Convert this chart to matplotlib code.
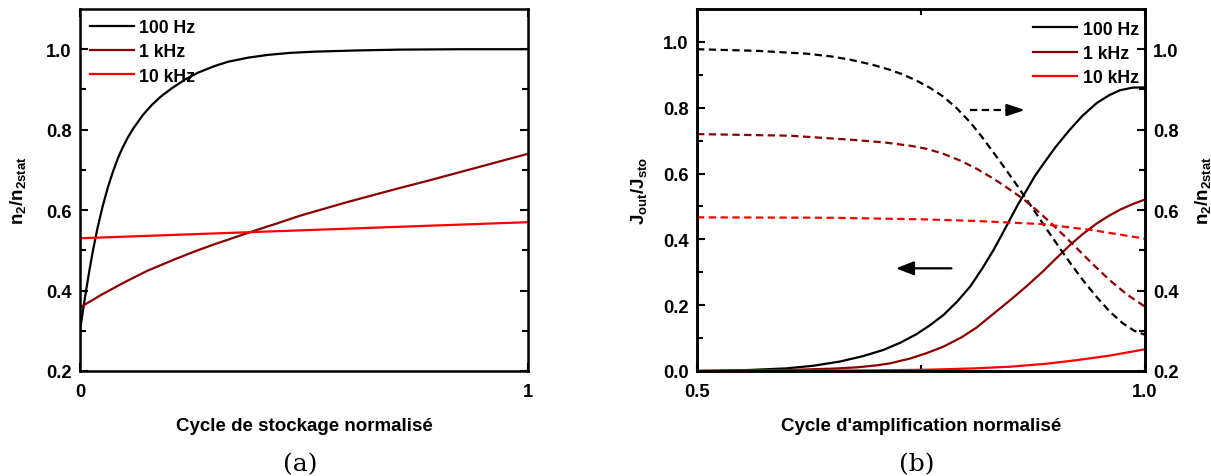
import numpy as np
import matplotlib
matplotlib.use("Agg")
import matplotlib.pyplot as plt
from matplotlib.ticker import FixedLocator

# fonts: bold Arial-like everywhere, subscripts bold too
plt.rcParams['font.family'] = ['Liberation Sans', 'DejaVu Sans']
plt.rcParams['font.weight'] = 'bold'
plt.rcParams['axes.labelweight'] = 'bold'
plt.rcParams['font.size'] = 12
plt.rcParams['mathtext.fontset'] = 'custom'
plt.rcParams['mathtext.rm'] = 'Liberation Sans:bold'
plt.rcParams['mathtext.bf'] = 'Liberation Sans:bold'
plt.rcParams['mathtext.it'] = 'Liberation Sans:bold'

labels = ['100 Hz', '1 kHz', '10 kHz']
colors = ['black', '#8B0000', '#FF0000']

# (a) storage cycle, n2/n2stat
x_sto_100 = [0, 0.007, 0.014, 0.021, 0.029, 0.039, 0.05, 0.062, 0.074, 0.085, 0.095, 0.107, 0.119,
             0.14, 0.16, 0.18, 0.205, 0.235, 0.264, 0.3, 0.331, 0.375, 0.42, 0.47, 0.525, 0.62,
             0.714, 0.85, 1.0]
n2_sto_100 = [0.30, 0.353, 0.403, 0.450, 0.500, 0.555, 0.607, 0.656, 0.697, 0.730, 0.755, 0.781, 0.803,
              0.836, 0.861, 0.882, 0.903, 0.925, 0.942, 0.958, 0.969, 0.979, 0.986, 0.991, 0.994, 0.997,
              0.999, 1.0, 1.0]
x_sto_1k = [0, 0.05, 0.1, 0.15, 0.212, 0.26, 0.3, 0.35, 0.39, 0.44, 0.491, 0.55, 0.6, 0.66, 0.714,
            0.78, 0.85, 0.92, 1.0]
n2_sto_1k = [0.358, 0.391, 0.421, 0.449, 0.478, 0.499, 0.515, 0.534, 0.549, 0.567, 0.586, 0.605, 0.621,
             0.639, 0.655, 0.674, 0.695, 0.716, 0.74]
x_sto_10k = [0, 0.5, 1.0]
n2_sto_10k = [0.53, 0.55, 0.57]

# (b) amplification cycle, J_out/J_sto (solid, left axis)
x_j_100 = [0.5, 0.55, 0.6, 0.63, 0.66, 0.685, 0.708, 0.727, 0.745, 0.76, 0.775, 0.79, 0.805, 0.818,
           0.831, 0.84, 0.849, 0.858, 0.868, 0.877, 0.887, 0.9, 0.916, 0.93, 0.946, 0.96, 0.972, 0.986, 1.0]
j_100 = [0.0, 0.002, 0.008, 0.016, 0.029, 0.045, 0.064, 0.086, 0.112, 0.139, 0.170, 0.210, 0.257, 0.31,
         0.368, 0.413, 0.459, 0.505, 0.550, 0.592, 0.631, 0.68, 0.733, 0.775, 0.814, 0.838, 0.853, 0.861, 0.862]
x_j_1k = [0.5, 0.6, 0.65, 0.678, 0.7, 0.715, 0.738, 0.757, 0.775, 0.795, 0.812, 0.83, 0.849, 0.868,
          0.887, 0.9, 0.916, 0.93, 0.946, 0.96, 0.972, 0.986, 1.0]
j_1k = [0.0, 0.003, 0.007, 0.011, 0.017, 0.023, 0.038, 0.055, 0.074, 0.102, 0.132, 0.172, 0.214, 0.258,
        0.305, 0.34, 0.382, 0.415, 0.448, 0.472, 0.49, 0.507, 0.521]
x_j_10k = [0.5, 0.6, 0.7, 0.76, 0.81, 0.849, 0.89, 0.924, 0.961, 1.0]
j_10k = [0.0, 0.0005, 0.002, 0.004, 0.008, 0.013, 0.022, 0.033, 0.047, 0.066]

# (b) amplification cycle, n2/n2stat (dashed, right axis)
x_n_100 = [0.5, 0.567, 0.622, 0.65, 0.671, 0.695, 0.715, 0.73, 0.745, 0.76, 0.775, 0.79, 0.805, 0.818,
           0.831, 0.844, 0.857, 0.868, 0.879, 0.892, 0.905, 0.918, 0.931, 0.946, 0.961, 0.975, 0.988, 1.0]
n_100 = [1.0, 0.996, 0.989, 0.982, 0.974, 0.962, 0.949, 0.937, 0.922, 0.904, 0.882, 0.853, 0.818, 0.782,
         0.743, 0.703, 0.662, 0.626, 0.590, 0.547, 0.505, 0.464, 0.425, 0.384, 0.347, 0.319, 0.300, 0.29]
x_n_1k = [0.5, 0.604, 0.678, 0.71, 0.738, 0.757, 0.775, 0.795, 0.812, 0.828, 0.842, 0.853, 0.864, 0.879,
          0.894, 0.909, 0.924, 0.942, 0.961, 0.98, 1.0]
n_1k = [0.789, 0.785, 0.774, 0.768, 0.760, 0.752, 0.740, 0.722, 0.703, 0.682, 0.662, 0.645, 0.628, 0.600,
        0.570, 0.538, 0.505, 0.465, 0.425, 0.39, 0.36]
x_n_10k = [0.5, 0.65, 0.753, 0.812, 0.887, 0.942, 1.0]
n_10k = [0.582, 0.581, 0.577, 0.573, 0.565, 0.550, 0.529]

# arrows in (b): (x start, x end, y on J axis)
arrow_right = (0.805, 0.866, 0.793)
arrow_left = (0.784, 0.722, 0.312)

fig = plt.figure(figsize=(12.11, 4.77), dpi=100)
ax1 = fig.add_axes([80/1211, 105/477, 448/1211, 362/477])
ax2 = fig.add_axes([697/1211, 105/477, 448/1211, 362/477])
axr = ax2.twinx()

lw = 1.6
dash = (3.3, 2.0)
tick_fs = 13.2
lab_fs = 13.5
leg_fs = 12.7

# panel (a)
ax1.plot(x_sto_100, n2_sto_100, color=colors[0], lw=lw, label=labels[0])
ax1.plot(x_sto_1k, n2_sto_1k, color=colors[1], lw=lw, label=labels[1])
ax1.plot(x_sto_10k, n2_sto_10k, color=colors[2], lw=lw, label=labels[2])
ax1.set_xlim(0, 1)
ax1.set_ylim(0.2, 1.1)
ax1.xaxis.set_major_locator(FixedLocator([0, 1]))
ax1.set_xticklabels(['0', '1'])
ax1.yaxis.set_major_locator(FixedLocator([0.2, 0.4, 0.6, 0.8, 1.0]))
ax1.yaxis.set_minor_locator(FixedLocator([0.3, 0.5, 0.7, 0.9]))
ax1.set_yticklabels(['0.2', '0.4', '0.6', '0.8', '1.0'])
ax1.set_xlabel('Cycle de stockage normalisé', fontsize=lab_fs, labelpad=12)
ax1.set_ylabel(r'n$_2$/n$_{2stat}$', fontsize=lab_fs, labelpad=13)
ax1.legend(loc='upper left', frameon=False, fontsize=leg_fs, handlelength=2.5,
           handletextpad=0.3, labelspacing=0.42, borderpad=0.3, borderaxespad=0.25)

# panel (b)
ax2.plot(x_j_100, j_100, color=colors[0], lw=lw, label=labels[0])
ax2.plot(x_j_1k, j_1k, color=colors[1], lw=lw, label=labels[1])
ax2.plot(x_j_10k, j_10k, color=colors[2], lw=lw, label=labels[2])
axr.plot(x_n_100, n_100, color=colors[0], lw=lw, dashes=dash)
axr.plot(x_n_1k, n_1k, color=colors[1], lw=lw, dashes=dash)
axr.plot(x_n_10k, n_10k, color=colors[2], lw=lw, dashes=dash)

ax2.set_xlim(0.5, 1.0)
ax2.set_ylim(0, 1.1)
axr.set_ylim(0.2, 1.1)
ax2.xaxis.set_major_locator(FixedLocator([0.5, 1.0]))
ax2.xaxis.set_minor_locator(FixedLocator([0.75]))
ax2.set_xticklabels(['0.5', '1.0'])
ax2.yaxis.set_major_locator(FixedLocator([0.0, 0.2, 0.4, 0.6, 0.8, 1.0]))
ax2.yaxis.set_minor_locator(FixedLocator([0.1, 0.3, 0.5, 0.7, 0.9]))
ax2.set_yticklabels(['0.0', '0.2', '0.4', '0.6', '0.8', '1.0'])
axr.yaxis.set_major_locator(FixedLocator([0.2, 0.4, 0.6, 0.8, 1.0]))
axr.yaxis.set_minor_locator(FixedLocator([0.3, 0.5, 0.7, 0.9]))
axr.set_yticklabels(['0.2', '0.4', '0.6', '0.8', '1.0'])
ax2.set_xlabel("Cycle d'amplification normalisé", fontsize=lab_fs, labelpad=12)
ax2.set_ylabel(r'J$_{out}$/J$_{sto}$', fontsize=lab_fs, labelpad=10)
axr.set_ylabel(r'n$_2$/n$_{2stat}$', fontsize=lab_fs, labelpad=10)

h, l = ax2.get_legend_handles_labels()
axr.legend(h, l, loc='upper right', bbox_to_anchor=(1.0, 0.985), frameon=False,
           fontsize=leg_fs, handlelength=2.5, handletextpad=0.3, labelspacing=0.42,
           borderpad=0.3, borderaxespad=0.05)

# arrows pointing at the relevant axis
x0, x1, y = arrow_right
ax2.plot([x0, x1 - 0.012], [y, y], color='k', lw=lw, dashes=dash)
ax2.annotate('', xy=(x1, y), xytext=(x1 - 0.02, y),
             arrowprops=dict(arrowstyle='-|>,head_length=0.9,head_width=0.3',
                             color='k', lw=lw, shrinkA=0, shrinkB=0))
x0, x1, y = arrow_left
ax2.annotate('', xy=(x1, y), xytext=(x0, y),
             arrowprops=dict(arrowstyle='-|>,head_length=0.9,head_width=0.35',
                             color='k', lw=lw, shrinkA=0, shrinkB=0))

# frame and ticks
for ax in (ax1, ax2, axr):
    for s in ax.spines.values():
        s.set_linewidth(1.8)
ax1.tick_params(which='both', direction='in', top=True, right=True, width=1.5, labelsize=tick_fs)
ax2.tick_params(which='both', direction='in', top=True, width=1.5, labelsize=tick_fs)
axr.tick_params(which='both', direction='in', width=1.5, labelsize=tick_fs)
for ax in (ax1, ax2, axr):
    ax.tick_params(which='major', length=6)
    ax.tick_params(which='minor', length=4)
    ax.tick_params(axis='y', pad=6)
ax1.tick_params(axis='x', pad=9)
ax2.tick_params(axis='x', pad=9)

# sub captions
fig.text(300/1211, 1 - 465/477, '(a)', family='DejaVu Serif', fontweight='normal',
         fontsize=18, ha='center', va='center')
fig.text(917/1211, 1 - 465/477, '(b)', family='DejaVu Serif', fontweight='normal',
         fontsize=18, ha='center', va='center')

fig.savefig('out.png', dpi=100)
